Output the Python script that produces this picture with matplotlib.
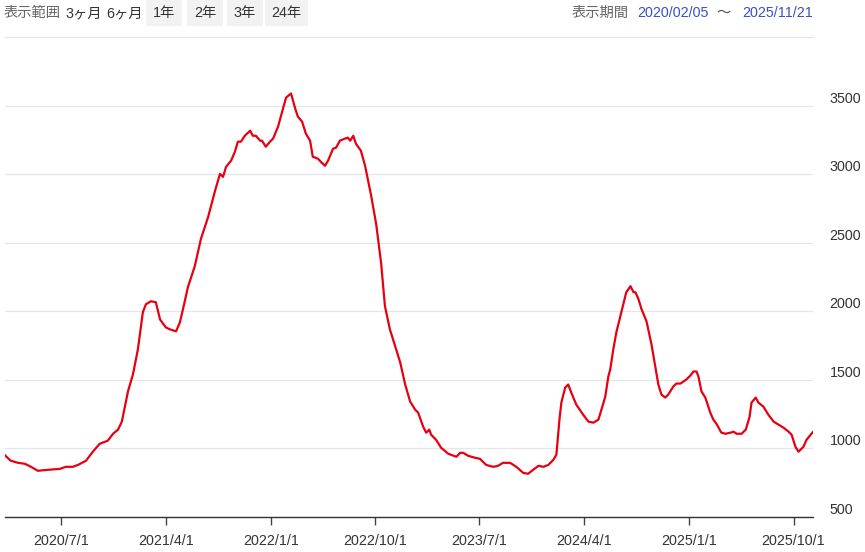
import pandas as pd
import matplotlib.pyplot as plt
import matplotlib.transforms as mtransforms

plt.rcParams['font.family'] = ['Liberation Sans', 'Noto Sans CJK JP', 'DejaVu Sans']

# 株価データ (目視で読み取り)
fechas = [
    "2020-02-05", "2020-02-19", "2020-03-10", "2020-03-28", "2020-04-13", "2020-05-01",
    "2020-05-27", "2020-06-28", "2020-07-13", "2020-08-01", "2020-08-14", "2020-09-04",
    "2020-09-22", "2020-10-10", "2020-10-31", "2020-11-14", "2020-11-27", "2020-12-07",
    "2020-12-15", "2020-12-23", "2021-01-05", "2021-01-18", "2021-01-31", "2021-02-08",
    "2021-02-21", "2021-03-06", "2021-03-17", "2021-04-01", "2021-04-12", "2021-04-28",
    "2021-05-08", "2021-05-19", "2021-05-29", "2021-06-16", "2021-07-02", "2021-07-21",
    "2021-08-08", "2021-08-21", "2021-08-29", "2021-09-06", "2021-09-19", "2021-09-29",
    "2021-10-07", "2021-10-15", "2021-10-25", "2021-11-08", "2021-11-15", "2021-11-23",
    "2021-12-04", "2021-12-09", "2021-12-19", "2021-12-30", "2022-01-07", "2022-01-20",
    "2022-01-28", "2022-02-10", "2022-02-23", "2022-03-06", "2022-03-13", "2022-03-24",
    "2022-04-03", "2022-04-14", "2022-04-21", "2022-05-05", "2022-05-12", "2022-05-23",
    "2022-05-31", "2022-06-13", "2022-06-21", "2022-07-01", "2022-07-14", "2022-07-22",
    "2022-07-28", "2022-08-05", "2022-08-12", "2022-08-25", "2022-09-05", "2022-09-21",
    "2022-10-04", "2022-10-17", "2022-10-27", "2022-11-09", "2022-11-23", "2022-12-06",
    "2022-12-19", "2023-01-01", "2023-01-14", "2023-01-22", "2023-02-04", "2023-02-12",
    "2023-02-20", "2023-02-25", "2023-03-10", "2023-03-23", "2023-04-11", "2023-05-02",
    "2023-05-12", "2023-05-20", "2023-06-02", "2023-06-20", "2023-07-03", "2023-07-19",
    "2023-08-06", "2023-08-19", "2023-09-01", "2023-09-20", "2023-10-06", "2023-10-24",
    "2023-11-06", "2023-11-19", "2023-12-03", "2023-12-16", "2023-12-29", "2024-01-11",
    "2024-01-19", "2024-01-27", "2024-02-01", "2024-02-11", "2024-02-19", "2024-02-27",
    "2024-03-11", "2024-03-29", "2024-04-12", "2024-04-25", "2024-05-08", "2024-05-16",
    "2024-05-26", "2024-06-03", "2024-06-08", "2024-06-16", "2024-06-24", "2024-07-07",
    "2024-07-20", "2024-07-31", "2024-08-08", "2024-08-13", "2024-08-21", "2024-08-29",
    "2024-09-11", "2024-09-24", "2024-10-04", "2024-10-12", "2024-10-20", "2024-10-30",
    "2024-11-07", "2024-11-20", "2024-11-28", "2024-12-09", "2024-12-24", "2025-01-04",
    "2025-01-12", "2025-01-20", "2025-01-25", "2025-02-02", "2025-02-12", "2025-02-25",
    "2025-03-05", "2025-03-13", "2025-03-26", "2025-04-06", "2025-04-19", "2025-04-27",
    "2025-05-05", "2025-05-18", "2025-05-29", "2025-06-08", "2025-06-13", "2025-06-24",
    "2025-07-01", "2025-07-14", "2025-07-27", "2025-08-10", "2025-08-23", "2025-09-05",
    "2025-09-18", "2025-09-26", "2025-10-06", "2025-10-14", "2025-10-27", "2025-11-04",
    "2025-11-21",
]
precios = [
    950, 912, 895, 888, 866, 837,
    844, 851, 866, 866, 880, 910,
    976, 1034, 1056, 1107, 1137, 1195,
    1305, 1415, 1539, 1722, 1993, 2051,
    2073, 2066, 1941, 1883, 1868, 1854,
    1919, 2051, 2176, 2329, 2527, 2688,
    2878, 3002, 2980, 3054, 3098, 3163,
    3237, 3237, 3280, 3317, 3280, 3280,
    3244, 3244, 3200, 3237, 3259, 3346,
    3427, 3558, 3588, 3478, 3419, 3383,
    3295, 3244, 3127, 3112, 3090, 3061,
    3098, 3185, 3193, 3244, 3259, 3266,
    3244, 3280, 3222, 3171, 3061, 2841,
    2637, 2351, 2037, 1868, 1744, 1627,
    1466, 1342, 1283, 1261, 1159, 1115,
    1137, 1100, 1063, 1005, 961, 939,
    968, 968, 946, 932, 924, 880,
    866, 873, 895, 895, 866, 822,
    815, 844, 873, 866, 880, 917,
    954, 1210, 1334, 1444, 1466, 1407,
    1320, 1246, 1195, 1188, 1210, 1283,
    1378, 1524, 1576, 1722, 1846, 1993,
    2139, 2183, 2139, 2139, 2088, 2015,
    1927, 1759, 1598, 1466, 1393, 1371,
    1393, 1451, 1473, 1473, 1502, 1532,
    1561, 1561, 1524, 1415, 1371, 1261,
    1210, 1180, 1115, 1107, 1115, 1122,
    1107, 1107, 1137, 1232, 1334, 1371,
    1334, 1305, 1246, 1195, 1173, 1151,
    1122, 1100, 1012, 976, 1012, 1063,
    1120,
]

etiquetas_x = ["2020/7/1", "2021/4/1", "2022/1/1", "2022/10/1",
               "2023/7/1", "2024/4/1", "2025/1/1", "2025/10/1"]
ticks_y = [500, 1000, 1500, 2000, 2500, 3000, 3500]
inicio = "2020/02/05"
fin = "2025/11/21"

data = pd.DataFrame({"fecha": pd.to_datetime(fechas), "precio": precios})

fig = plt.figure(figsize=(8.65, 5.52), dpi=100)
ax = fig.add_axes([5 / 865, 35 / 552, 808 / 865, 480 / 552])

ax.plot(data["fecha"], data["precio"], color="#e60012", linewidth=1.6)

ax.set_xlim(pd.to_datetime(inicio), pd.to_datetime(fin))
ax.set_ylim(500, 4000)

# eje y a la derecha
ax.yaxis.tick_right()
ax.set_yticks(ticks_y)
ax.set_yticklabels([str(v) for v in ticks_y])
ax.tick_params(axis="y", length=0, pad=12, labelsize=10.3, labelcolor="#333333")
desplaza = mtransforms.ScaledTranslation(0, 0.03, fig.dpi_scale_trans)
for lab in ax.get_yticklabels():
    lab.set_verticalalignment("baseline")
    lab.set_transform(lab.get_transform() + desplaza)

ax.grid(axis="y", color="#e6e6e6", linewidth=0.9)
ax.set_axisbelow(True)

ax.set_xticks(pd.to_datetime(etiquetas_x, format="%Y/%m/%d"))
ax.set_xticklabels(etiquetas_x)
ax.tick_params(axis="x", length=6, width=1, color="#444444", pad=6,
               labelsize=10.3, labelcolor="#333333")

for lado in ["left", "right"]:
    ax.spines[lado].set_visible(False)
ax.spines["top"].set_color("#e6e6e6")
ax.spines["top"].set_linewidth(0.9)
ax.spines["bottom"].set_color("#333333")
ax.spines["bottom"].set_linewidth(1)

# barra superior
y_txt = 1 - 13 / 552
fig.text(4 / 865, y_txt, "表示範囲", fontsize=10.3, color="#666666", va="center")
fig.text(65 / 865, y_txt, "3ヶ月", fontsize=10.3, color="#333333", va="center")
fig.text(106 / 865, y_txt, "6ヶ月", fontsize=10.3, color="#333333", va="center")
for txt, xc in [("1年", 164), ("2年", 205), ("3年", 245), ("24年", 286)]:
    fig.text(xc / 865, y_txt, txt, fontsize=10.3, color="#333333", ha="center", va="center",
             bbox=dict(boxstyle="square,pad=0.45", fc="#f2f2f2", ec="none"))

fig.text(572 / 865, y_txt, "表示期間", fontsize=10.3, color="#666666", va="center")
fig.text(637 / 865, y_txt, inicio, fontsize=10.3, color="#3a4fc9", va="center")
fig.text(716 / 865, y_txt, "〜", fontsize=10.3, color="#555555", va="center")
fig.text(742 / 865, y_txt, fin, fontsize=10.3, color="#3a4fc9", va="center")

plt.savefig("out.png", dpi=100)
